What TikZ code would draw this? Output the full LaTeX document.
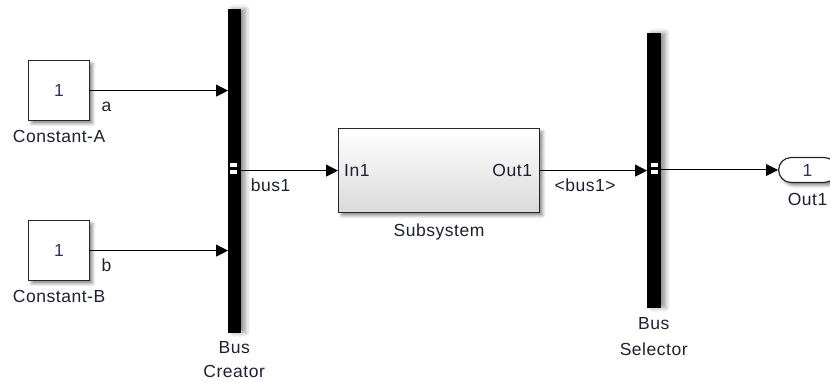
\documentclass[tikz,border=0pt]{standalone}
\usepackage{fontspec}
\setmainfont{Liberation Sans}[LetterSpace=3]
\usetikzlibrary{arrows.meta,positioning,shadows.blur}
\definecolor{cEdge}{HTML}{262626}
\definecolor{cNum} {HTML}{3A2D5C}
\definecolor{cLbl} {HTML}{1C2030}
\definecolor{cBot} {HTML}{DADADA}
\tikzset{
  shd/.style   ={blur shadow={shadow xshift=3pt,shadow yshift=-3pt,
                 shadow blur radius=3pt,shadow opacity=45}},
  blk/.style   ={draw=cEdge,fill=white,line width=1.2pt,inner sep=0pt,
                 text=cNum,shd},
  busbar/.style={fill=black,draw=black,inner sep=0pt,minimum width=12pt,
                 anchor=north west,
                 blur shadow={shadow xshift=5pt,shadow yshift=0pt,
                 shadow blur radius=5pt,shadow opacity=45}},
  lbl/.style   ={text=cLbl,inner sep=0pt,align=center},
  tag/.style   ={lbl,pos=0,anchor=base west,yshift=-21pt},
  sig/.style   ={-{Triangle[length=12pt,width=12pt]},draw=black,line width=1pt},
  port/.style  ={draw=black,fill=white,line width=0.8pt},
}

\begin{document}
\begin{tikzpicture}[x=1pt,y=1pt,font=\fontsize{17.5}{24}\selectfont]
\useasboundingbox (0,0) rectangle (830,-382);
\clip (0,0) rectangle (830,-382);

% ===== sources =============================================================
\node[blk,minimum width=61pt,minimum height=60pt,anchor=north west] (conA) at (28,-60) {1};
\node[lbl,below=9pt of conA] (conAl) {Constant-A};
\node[blk,minimum width=61pt,minimum height=60pt,anchor=north west] (conB) at (28,-220) {1};
\node[lbl,below=9pt of conB] (conBl) {Constant-B};

% ===== bus creator =========================================================
\node[busbar,minimum height=323pt] (bc) at (228,-9) {};
\node[lbl,below=9pt of bc] (bcl) {Bus\\Creator};

% ===== subsystem ===========================================================
\node[blk,minimum width=201pt,minimum height=84pt,anchor=north west,
      top color=white,bottom color=cBot] (sub) at (338,-128) {};
\node[lbl,right=6pt of sub.west] (subin)  {In1};
\node[lbl,left=8pt of sub.east]  (subout) {Out1};
\node[lbl,below=10pt of sub] (subl) {Subsystem};

% ===== bus selector ========================================================
\node[busbar,minimum width=13pt,minimum height=274pt] (bs) at (647,-33) {};
\node[lbl,below=10pt of bs,font=\fontsize{17.5}{26}\selectfont] (bsl) {Bus\\Selector};

% ===== outport =============================================================
\node[blk,minimum width=58pt,minimum height=25pt,rounded corners=12.5pt,
      anchor=west] (out) at (778,-170) {1};
\node[lbl,below=10pt of out] (outl) {Out1};

% bus port marks on both bars
\foreach \x in {229,650}{
  \draw[port] (\x,-162) rectangle ++(8,-5);
  \draw[port] (\x,-169) rectangle ++(8,-5);
}

% ===== signals =============================================================
\draw[sig] (conA.east) -- node[tag,xshift=11pt]{a} (conA.east-|bc.west);
\draw[sig] (conB.east) -- node[tag,xshift=11pt]{b} (conB.east-|bc.west);
\draw[sig] (sub.west-|bc.east) -- node[tag,xshift=10pt]{bus1} (sub.west);
\draw[sig] (sub.east) -- node[tag,xshift=14pt]{<bus1>} (sub.east-|bs.west);
\draw[sig] (out.west-|bs.east) -- (out.west);
\end{tikzpicture}
\end{document}
